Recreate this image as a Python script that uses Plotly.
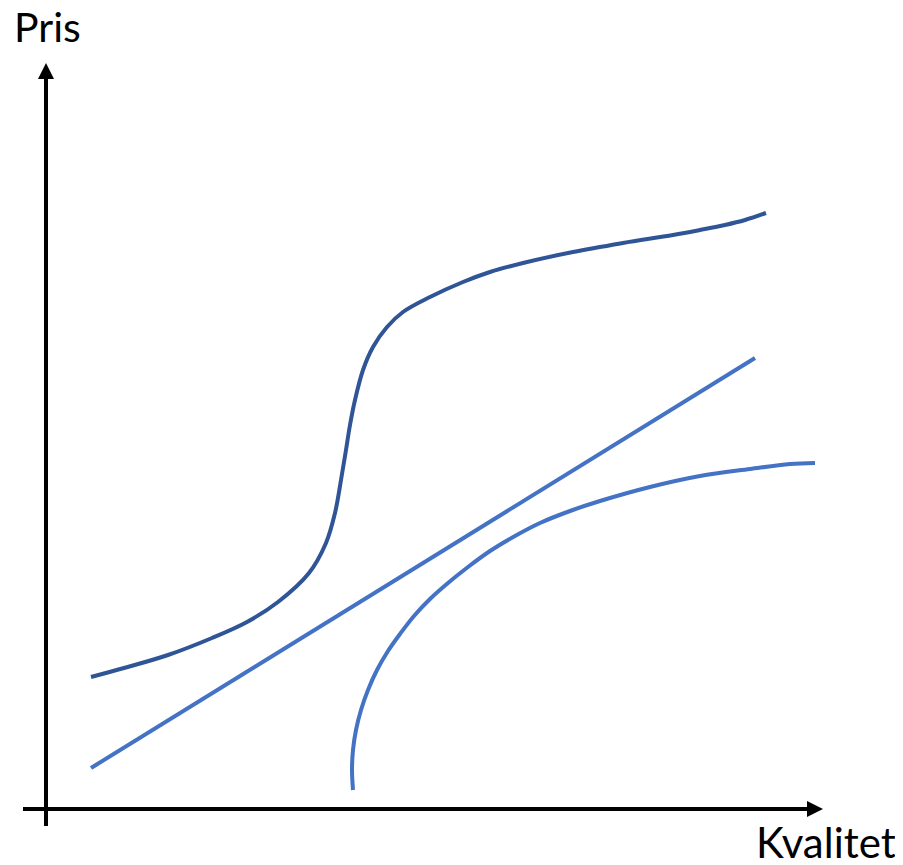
import plotly.graph_objects as go

# Canvas-style coordinates (x right, y down)
W, H = 903, 865
PAGE_MARGIN = 8  # default body margin of the html page

# Dark S-curve
s_x = [91, 124, 168, 212, 247, 278, 309, 326, 335, 341, 346, 350, 355, 363, 373, 387, 403, 430, 463, 490, 523, 573, 623, 673, 700, 725, 745, 766]
s_y = [677, 668, 655, 638, 622, 602, 573, 543, 513, 480, 450, 425, 400, 370, 347, 327, 312, 297, 282, 272, 263, 252, 243, 235, 230, 225, 220, 213]

# Straight line
l_x = [91, 755]
l_y = [768, 358]

# Lower concave curve
c_x = [353, 352, 353, 356, 361, 368, 377, 388, 400, 414, 430, 448, 468, 490, 515, 540, 570, 600, 650, 700, 750, 790, 815]
c_y = [790, 770, 750, 730, 710, 690, 670, 651, 634, 616, 599, 583, 567, 551, 536, 523, 511, 501, 487, 476, 469, 464, 463]

# Axes
y_axis_x = 46
y_axis_top = 63
y_axis_bottom = 826
x_axis_y = 809
x_axis_left = 23
x_axis_right = 823
arrow_len = 16
arrow_half = 8

DARK = "#2F5597"
LIGHT = "#4472C4"

fig = go.Figure()
fig.add_trace(go.Scatter(x=s_x, y=s_y, mode="lines", line=dict(color=DARK, width=4, shape="spline", smoothing=1.0), hoverinfo="skip"))
fig.add_trace(go.Scatter(x=l_x, y=l_y, mode="lines", line=dict(color=LIGHT, width=4), hoverinfo="skip"))
fig.add_trace(go.Scatter(x=c_x, y=c_y, mode="lines", line=dict(color=LIGHT, width=4, shape="spline", smoothing=1.0), hoverinfo="skip"))

shapes = [
    dict(type="line", x0=y_axis_x, x1=y_axis_x, y0=y_axis_bottom, y1=y_axis_top + arrow_len - 2,
         line=dict(color="black", width=4)),
    dict(type="line", x0=x_axis_left, x1=x_axis_right - arrow_len + 2, y0=x_axis_y, y1=x_axis_y,
         line=dict(color="black", width=4)),
    dict(type="path",
         path=f"M {y_axis_x - arrow_half} {y_axis_top + arrow_len} L {y_axis_x} {y_axis_top} L {y_axis_x + arrow_half} {y_axis_top + arrow_len} Z",
         fillcolor="black", line=dict(width=0)),
    dict(type="path",
         path=f"M {x_axis_right - arrow_len} {x_axis_y - arrow_half} L {x_axis_right} {x_axis_y} L {x_axis_right - arrow_len} {x_axis_y + arrow_half} Z",
         fillcolor="black", line=dict(width=0)),
]

annotations = [
    dict(x=12, y=26, text="Pris", showarrow=False, xanchor="left", yanchor="middle",
         font=dict(family="Lato, Noto Sans, sans-serif", size=41, color="black")),
    dict(x=754, y=842, text="Kvalitet", showarrow=False, xanchor="left", yanchor="middle",
         font=dict(family="Lato, Noto Sans, sans-serif", size=42, color="black")),
]

fig.update_layout(
    width=W - PAGE_MARGIN, height=H - PAGE_MARGIN,
    margin=dict(l=0, r=0, t=0, b=0),
    paper_bgcolor="white", plot_bgcolor="white",
    showlegend=False,
    xaxis=dict(range=[PAGE_MARGIN, W], visible=False, fixedrange=True),
    yaxis=dict(range=[H, PAGE_MARGIN], visible=False, fixedrange=True),
    shapes=shapes, annotations=annotations,
)

fig.write_html("out.html", config={"displayModeBar": False})
